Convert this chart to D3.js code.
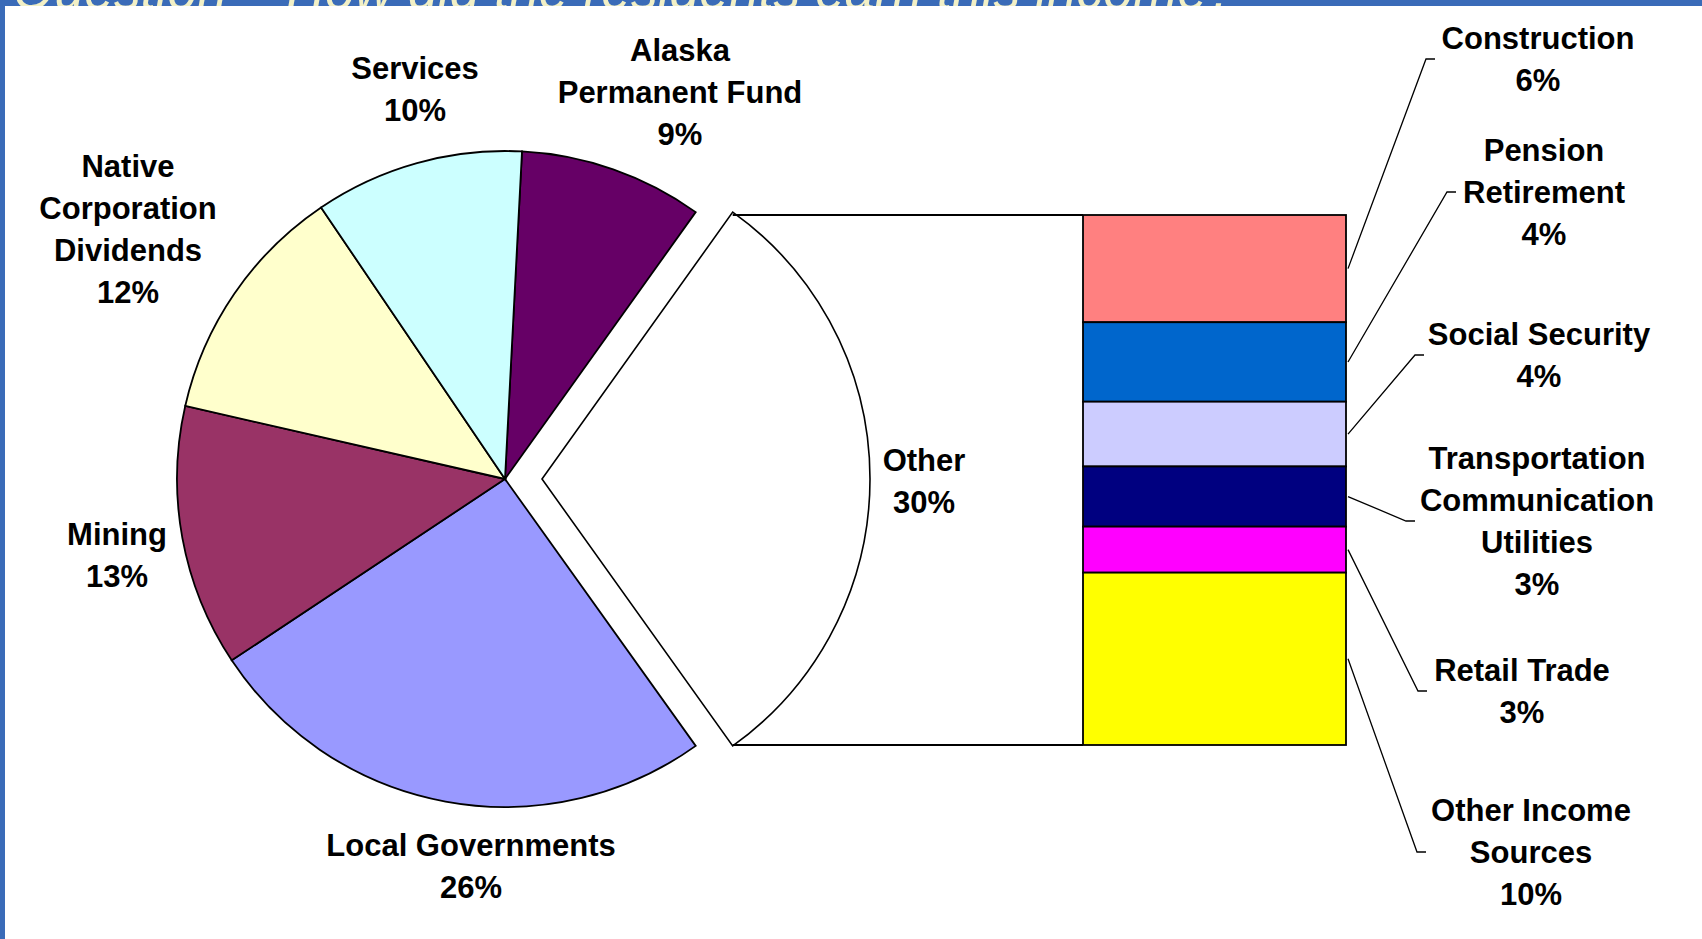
<!DOCTYPE html>
<html>
<head>
<meta charset="utf-8">
<script src="https://cdn.jsdelivr.net/npm/d3@7"></script>
<style>
html,body{margin:0;padding:0;background:#fff;overflow:hidden;}
svg{display:block;}
</style>
</head>
<body>
<svg id="chart" width="1702" height="939"></svg>
<script>
// ---------------- data ----------------
const titleText = "Question \u2013 How did the residents earn this income?";
const pieCategories = ["Alaska Permanent Fund", "Other", "Local Governments", "Mining", "Native Corporation Dividends", "Services"];
const pieValues = [9.05, 30.25, 25.55, 12.9, 11.95, 10.3];
const pieColors = ["#660066", "#FFFFFF", "#9999FF", "#993366", "#FFFFCC", "#CCFFFF"];
const pieLabelLines = [["Alaska", "Permanent Fund"], ["Other"], ["Local Governments"], ["Mining"], ["Native", "Corporation", "Dividends"], ["Services"]];

const barCategories = ["Construction", "Pension Retirement", "Social Security", "Transportation Communication Utilities", "Retail Trade", "Other Income Sources"];
const barValues = [6.06, 4.49, 3.66, 3.4, 2.6, 9.74];
const barColors = ["#FF8080", "#0066CC", "#CCCCFF", "#000080", "#FF00FF", "#FFFF00"];
const barLabelLines = [["Construction"], ["Pension", "Retirement"], ["Social Security"], ["Transportation", "Communication", "Utilities"], ["Retail Trade"], ["Other Income", "Sources"]];

// ---------------- layout ----------------
const W = 1702, H = 939;
const cx = 505, cy = 479, R = 328, explode = 37;
const otherIndex = 1;
const barX0 = 1083, barX1 = 1346, barTop = 215, barBottom = 745;
const fontSize = 31, lineH = 42;
const font = "'Liberation Sans', Arial, Helvetica, sans-serif";

// label placement (x center, y center of text block)
const pieLabelPos = [
  {x: 680, y: 92}, {x: 924, y: 481}, {x: 471, y: 866},
  {x: 117, y: 555}, {x: 128, y: 229}, {x: 415, y: 89}
];
const barLabelPos = [
  {x: 1538, y: 59, ex: 1426}, {x: 1544, y: 192, ex: 1447}, {x: 1539, y: 355, ex: 1415},
  {x: 1537, y: 521, ex: 1406}, {x: 1522, y: 691, ex: 1418}, {x: 1531, y: 852, ex: 1417}
];

const svg = d3.select("#chart");

// slide background + clipped title
svg.append("rect").attr("x", 0).attr("y", 0).attr("width", W).attr("height", H).attr("fill", "#3A6BB8");
svg.append("text")
  .attr("x", 13).attr("y", 9)
  .attr("font-family", font).attr("font-style", "italic")
  .attr("font-size", 58).attr("fill", "#F2F0C6")
  .attr("textLength", 1224).attr("lengthAdjust", "spacingAndGlyphs")
  .text(titleText);
svg.append("rect").attr("x", 5).attr("y", 6).attr("width", W - 5).attr("height", H - 6).attr("fill", "#FFFFFF");

// ---------------- pie ----------------
const total = d3.sum(pieValues);
const before = d3.sum(pieValues.slice(0, otherIndex));
const startA = Math.PI / 2 - (before + pieValues[otherIndex] / 2) / total * 2 * Math.PI;
const pie = d3.pie().sort(null).value(d => d).startAngle(startA).endAngle(startA + 2 * Math.PI);
const arcs = pie(pieValues);
const arc = d3.arc().innerRadius(0).outerRadius(R);

const pieG = svg.append("g").attr("transform", `translate(${cx},${cy})`);
pieG.selectAll("path.slice").data(arcs).join("path")
  .attr("class", "slice")
  .attr("transform", (d, i) => {
    if (i !== otherIndex) return null;
    const m = (d.startAngle + d.endAngle) / 2;
    return `translate(${explode * Math.sin(m)},${-explode * Math.cos(m)})`;
  })
  .attr("d", arc)
  .attr("fill", (d, i) => pieColors[i])
  .attr("stroke", "#000")
  .attr("stroke-width", (d, i) => i === otherIndex ? 1.6 : 1.8)
  .attr("stroke-linejoin", "miter");

// ---------------- bar ----------------
const barTotal = d3.sum(barValues);
const y = d3.scaleLinear().domain([0, barTotal]).range([barTop, barBottom]);
const cum = [];
barValues.reduce((acc, v, i) => { cum.push({start: acc, end: acc + v, i}); return acc + v; }, 0);

// connector lines from exploded slice to bar
const oA = arcs[otherIndex];
const oMid = (oA.startAngle + oA.endAngle) / 2;
const ox = cx + explode * Math.sin(oMid), oy = cy - explode * Math.cos(oMid);
const corner = a => [ox + R * Math.sin(a), oy - R * Math.cos(a)];
const c1 = corner(oA.startAngle), c2 = corner(oA.endAngle);
svg.append("line").attr("x1", c1[0]).attr("y1", y(0)).attr("x2", barX0).attr("y2", y(0))
  .attr("stroke", "#000").attr("stroke-width", 1.8);
svg.append("line").attr("x1", c2[0]).attr("y1", y(barTotal)).attr("x2", barX0).attr("y2", y(barTotal))
  .attr("stroke", "#000").attr("stroke-width", 1.8);

svg.append("g").selectAll("rect").data(cum).join("rect")
  .attr("x", barX0).attr("width", barX1 - barX0)
  .attr("y", d => y(d.start)).attr("height", d => y(d.end) - y(d.start))
  .attr("fill", d => barColors[d.i])
  .attr("stroke", "#000").attr("stroke-width", 1.8);

// leader lines
svg.append("g").selectAll("path").data(cum).join("path")
  .attr("d", d => {
    const p = barLabelPos[d.i];
    const sy = y((d.start + d.end) / 2);
    return `M${barX1 + 2},${sy}L${p.ex},${p.y}L${p.ex + 9},${p.y}`;
  })
  .attr("fill", "none").attr("stroke", "#000").attr("stroke-width", 1.3);

// ---------------- labels ----------------
function drawLabel(lines, pos) {
  const n = lines.length;
  const t = svg.append("text")
    .attr("font-family", font).attr("font-weight", "bold")
    .attr("font-size", fontSize).attr("fill", "#000")
    .attr("text-anchor", "middle");
  lines.forEach((ln, k) => {
    t.append("tspan").attr("x", pos.x)
      .attr("y", pos.y + (k - (n - 1) / 2) * lineH + fontSize * 0.36)
      .text(ln);
  });
}
const pct = v => Math.round(v) + "%";
pieValues.forEach((v, i) => drawLabel(pieLabelLines[i].concat([pct(v / total * 100)]), pieLabelPos[i]));
barValues.forEach((v, i) => drawLabel(barLabelLines[i].concat([pct(v)]), barLabelPos[i]));
</script>
</body>
</html>
